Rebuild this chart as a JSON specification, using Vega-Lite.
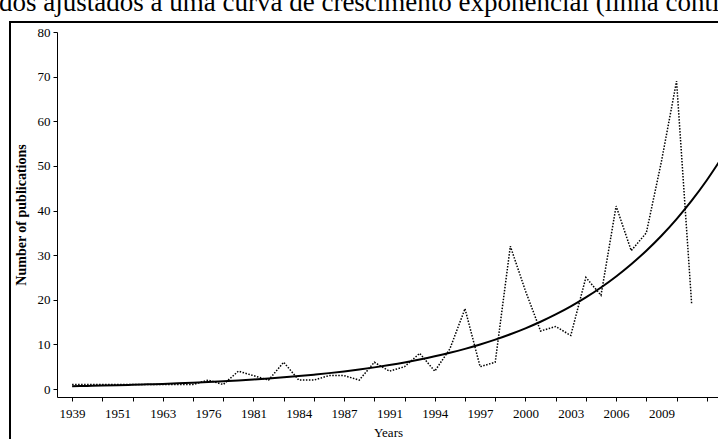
{
  "$schema": "https://vega.github.io/schema/vega-lite/v6.json",
  "width": 710,
  "height": 419,
  "autosize": {"type": "none"},
  "padding": {"left": 10, "top": 22, "right": -2, "bottom": -2},
  "background": "white",
  "title": {
    "text": "dos ajustados a uma curva de crescimento exponencial (linha contínua)",
    "anchor": "start",
    "frame": "group",
    "font": "Liberation Serif",
    "fontSize": 27,
    "fontWeight": "normal",
    "color": "black",
    "dx": -11,
    "dy": 24,
    "baseline": "alphabetic",
    "offset": 8
  },
  "data": {
    "values": [
      {"year": "1939", "count": 1, "fit": 0.62},
      {"year": "1943", "count": 1, "fit": 0.69},
      {"year": "1947", "count": 1, "fit": 0.76},
      {"year": "1951", "count": 1, "fit": 0.84},
      {"year": "1955", "count": 1, "fit": 0.93},
      {"year": "1959", "count": 1, "fit": 1.04},
      {"year": "1963", "count": 1, "fit": 1.15},
      {"year": "1967", "count": 1, "fit": 1.27},
      {"year": "1972", "count": 1, "fit": 1.41},
      {"year": "1976", "count": 2, "fit": 1.56},
      {"year": "1978", "count": 1, "fit": 1.73},
      {"year": "1979", "count": 4, "fit": 1.92},
      {"year": "1981", "count": 3, "fit": 2.13},
      {"year": "1982", "count": 2, "fit": 2.36},
      {"year": "1983", "count": 6, "fit": 2.62},
      {"year": "1984", "count": 2, "fit": 2.9},
      {"year": "1985", "count": 2, "fit": 3.22},
      {"year": "1986", "count": 3, "fit": 3.56},
      {"year": "1987", "count": 3, "fit": 3.95},
      {"year": "1989", "count": 2, "fit": 4.38},
      {"year": "1990", "count": 6, "fit": 4.85},
      {"year": "1991", "count": 4, "fit": 5.38},
      {"year": "1992", "count": 5, "fit": 5.96},
      {"year": "1993", "count": 8, "fit": 6.61},
      {"year": "1994", "count": 4, "fit": 7.33},
      {"year": "1995", "count": 9, "fit": 8.12},
      {"year": "1996", "count": 18, "fit": 9.0},
      {"year": "1997", "count": 5, "fit": 9.98},
      {"year": "1998", "count": 6, "fit": 11.06},
      {"year": "1999", "count": 32, "fit": 12.27},
      {"year": "2000", "count": 22, "fit": 13.6},
      {"year": "2001", "count": 13, "fit": 15.07},
      {"year": "2002", "count": 14, "fit": 16.71},
      {"year": "2003", "count": 12, "fit": 18.52},
      {"year": "2004", "count": 25, "fit": 20.53},
      {"year": "2005", "count": 21, "fit": 22.75},
      {"year": "2006", "count": 41, "fit": 25.22},
      {"year": "2007", "count": 31, "fit": 27.96},
      {"year": "2008", "count": 35, "fit": 30.99},
      {"year": "2009", "count": 51, "fit": 34.35},
      {"year": "2010", "count": 69, "fit": 38.08},
      {"year": "2011", "count": 19, "fit": 42.21},
      {"year": "2012", "count": null, "fit": 46.79},
      {"year": "2013", "count": null, "fit": 51.87}
    ]
  },
  "encoding": {
    "x": {
      "field": "year",
      "type": "ordinal",
      "title": "Years",
      "scale": {
        "domain": ["1939","1943","1947","1951","1955","1959","1963","1967","1972","1976","1978","1979","1981","1982","1983","1984","1985","1986","1987","1989","1990","1991","1992","1993","1994","1995","1996","1997","1998","1999","2000","2001","2002","2003","2004","2005","2006","2007","2008","2009","2010","2011","2012","2013"],
        "range": [47, 727],
        "padding": 1
      },
      "axis": {
        "orient": "bottom",
        "offset": -44,
        "labelAngle": 0,
        "labelOverlap": false,
        "labelExpr": "indexof(['1939','1951','1963','1976','1981','1984','1987','1991','1994','1997','2000','2003','2006','2009'], datum.value) >= 0 ? datum.value : ''",
        "tickOpacity": {
          "condition": {"test": "indexof(['1939','1947','1955','1963','1972','1978','1981','1983','1985','1987','1990','1992','1994','1996','1998','2000','2002','2004','2006','2008','2010','2012'], datum.value) >= 0", "value": 1},
          "value": 0
        },
        "tickSize": 4,
        "tickColor": "black",
        "domainColor": "black",
        "domainWidth": 1,
        "labelFont": "Liberation Serif",
        "labelFontSize": 13,
        "labelColor": "black",
        "labelPadding": 6,
        "titleFont": "Liberation Serif",
        "titleFontSize": 13,
        "titleFontWeight": "normal",
        "titleColor": "black",
        "titleX": 378,
        "titlePadding": 6,
        "grid": false
      }
    }
  },
  "layer": [
    {
      "mark": {"type": "line", "color": "black", "strokeWidth": 1.5, "strokeDash": [1.5, 1.5]},
      "encoding": {
        "y": {
          "field": "count",
          "type": "quantitative",
          "title": "Number of publications",
          "scale": {"domain": [-1.79, 80], "range": [375, 10], "nice": false, "zero": false},
          "axis": {
            "orient": "left",
            "offset": -47,
            "values": [0, 10, 20, 30, 40, 50, 60, 70, 80],
            "tickSize": 4,
            "tickColor": "black",
            "domainColor": "black",
            "domainWidth": 1,
            "labelFont": "Liberation Serif",
            "labelFontSize": 13,
            "labelColor": "black",
            "labelPadding": 3,
            "titleFont": "Liberation Serif",
            "titleFontSize": 14,
            "titleFontWeight": "bold",
            "titleColor": "black",
            "titlePadding": 9,
            "grid": false
          }
        }
      }
    },
    {
      "mark": {"type": "line", "color": "black", "strokeWidth": 2, "interpolate": "monotone"},
      "encoding": {
        "y": {"field": "fit", "type": "quantitative", "title": "Number of publications"}
      }
    }
  ],
  "config": {
    "view": {"stroke": "black", "strokeWidth": 2}
  }
}
